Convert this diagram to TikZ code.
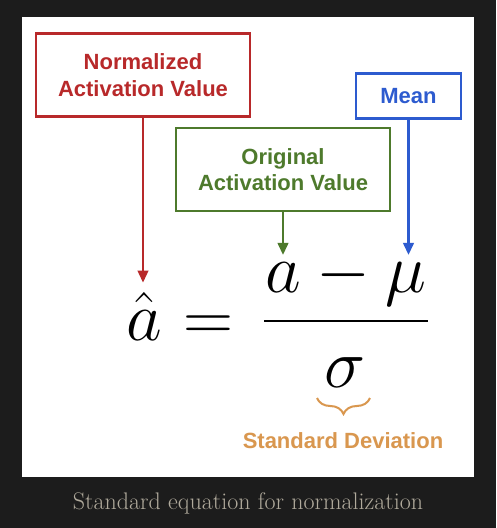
\documentclass[tikz,border=0pt]{standalone}
\usepackage{fix-cm}
\usepackage{amsmath}
\usepackage{fontspec}
\newfontfamily\labelfont{Liberation Sans}
\usetikzlibrary{positioning, arrows.meta, decorations.pathreplacing}

\definecolor{normred}{HTML}{B8292A}
\definecolor{origgreen}{HTML}{4E7A2C}
\definecolor{meanblue}{HTML}{2D5BCF}
\definecolor{devorange}{HTML}{D9974F}
\definecolor{pagedark}{HTML}{1C1C1C}
\definecolor{captiongray}{HTML}{B0AA9C}

\begin{document}
\begin{tikzpicture}[x=0.75pt, y=-0.75pt,
  labelbox/.style={draw=#1, text=#1, line width=1.6pt, fill=white, align=center,
    font=\labelfont\bfseries\fontsize{16.5}{20}\selectfont, inner sep=0pt},
  pointer/.style={draw=#1, line width=1.6pt, -{Triangle[length=9pt,width=8pt]}, shorten >=5.25pt},
  sym/.style={anchor=base, inner sep=0pt, font=\fontsize{52}{62}\selectfont}]
  % page and panel
  \fill[pagedark] (0,0) rectangle (496,528);
  \fill[white] (22,17) rectangle (474,477);

  % the equation
  \node[sym] (ahat) at (144,340) {$\hat{a}$};
  \node[sym] (eq) at (208,340) {$=$};
  \node[sym] (numa) at (283,292) {$a$};
  \node[sym] (minus) at (343,292) {$-$};
  \node[sym] (mu) at (406,292) {$\mu$};
  \node[sym] (sigma) at (345,387) {$\sigma$};
  \draw[line width=2pt] (264,321) -- (428,321);

  % labels
  \node[labelbox=normred, minimum width=160.5pt, minimum height=62.25pt] (normbox) at (143,75)
    {Normalized\\Activation Value};
  \node[labelbox=origgreen, minimum width=160.5pt, minimum height=62.25pt] (origbox) at (283,169.5)
    {Original\\Activation Value};
  \node[labelbox=meanblue, minimum width=78.75pt, minimum height=33.75pt] (meanbox) at (408.5,96)
    {Mean};

  \draw[pointer=normred, shorten >=6.75pt] (normbox.south) -- (normbox.south |- ahat.north);
  \draw[pointer=origgreen] (origbox.south) -- (origbox.south |- numa.north);
  \draw[pointer=meanblue] (meanbox.south) -- (meanbox.south |- mu.north);

  % standard deviation
  \draw[devorange, line width=1.5pt, decorate, decoration={brace, mirror, amplitude=12pt}]
    (317,398) -- (370,398);
  \node[text=devorange, font=\labelfont\bfseries\fontsize{16.5}{20}\selectfont] (devlabel) at (343,441)
    {Standard Deviation};

  \node[text=captiongray, font=\fontsize{18}{22}\selectfont] (caption) at (248,503)
    {Standard equation for normalization};
\end{tikzpicture}
\end{document}
